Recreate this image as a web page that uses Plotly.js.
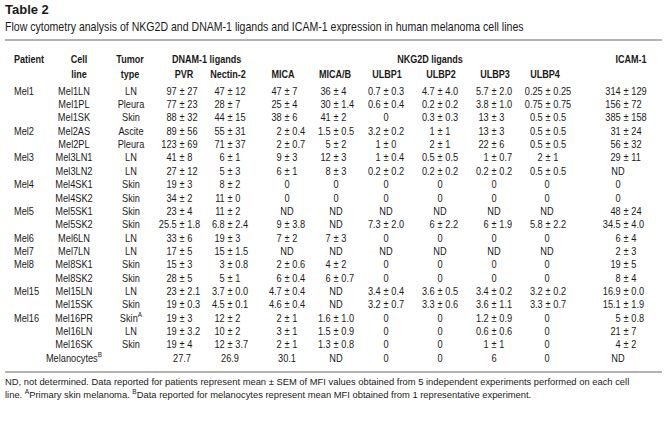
<!DOCTYPE html>
<html><head><meta charset="utf-8">
<script src="https://cdn.plot.ly/plotly-3.0.1.min.js"></script>
<style>html,body{margin:0;padding:0;background:#fff}#c{width:667px;height:439px}</style>
</head><body><div id="c"></div>
<script>
const patients = ['Mel1','','','Mel2','','Mel3','','Mel4','','Mel5','','Mel6','Mel7','Mel8','','Mel15','','Mel16','','',''];
const cellLines = ['Mel1LN','Mel1PL','Mel1SK','Mel2AS','Mel2PL','Mel3LN1','Mel3LN2','Mel4SK1','Mel4SK2','Mel5SK1','Mel5SK2','Mel6LN','Mel7LN','Mel8SK1','Mel8SK2','Mel15LN','Mel15SK','Mel16PR','Mel16LN','Mel16SK','Melanocytes<sup>B</sup>'];
const tumorTypes = ['LN','Pleura','Skin','Ascite','Pleura','LN','LN','Skin','Skin','Skin','Skin','LN','LN','Skin','Skin','LN','Skin','Skin<sup>A</sup>','LN','Skin',''];
const pvr = ['97 ± 27','77 ± 23','88 ± 32','89 ± 56','123 ± 69','41 ± 8','27 ± 12','19 ± 3','34 ± 2','23 ± 4','25.5 ± 1.8','33 ± 6','17 ± 5','15 ± 3','28 ± 5','23 ± 2.1','19 ± 0.3','19 ± 3','19 ± 3.2','19 ± 4','27.7'];
const nectin2 = ['47 ± 12','28 ± 7','44 ± 15','55 ± 31','71 ± 37','6 ± 1','5 ± 3','8 ± 2','11 ± 0','11 ± 2','6.8 ± 2.4','19 ± 3','15 ± 1.5','3 ± 0.8','5 ± 1','3.7 ± 0.0','4.5 ± 0.1','12 ± 2','10 ± 2','12 ± 3.7','26.9'];
const mica = ['47 ± 7','25 ± 4','38 ± 6','2 ± 0.4','2 ± 0.7','9 ± 3','6 ± 1','0','0','ND','9 ± 3.8','7 ± 2','ND','2 ± 0.6','6 ± 0.4','4.7 ± 0.4','4.6 ± 0.4','2 ± 1','3 ± 1','2 ± 1','30.1'];
const micab = ['36 ± 4','30 ± 1.4','41 ± 2','1.5 ± 0.5','5 ± 2','12 ± 3','8 ± 3','0','0','ND','ND','7 ± 3','ND','4 ± 2','6 ± 0.7','ND','ND','1.6 ± 1.0','1.5 ± 0.9','1.3 ± 0.8','ND'];
const ulbp1 = ['0.7 ± 0.3','0.6 ± 0.4','0','3.2 ± 0.2','1 ± 0','1 ± 0.4','0.2 ± 0.2','0','0','ND','7.3 ± 2.0','0','ND','0','0','3.4 ± 0.4','3.2 ± 0.7','0','0','0','0'];
const ulbp2 = ['4.7 ± 4.0','0.2 ± 0.2','0.3 ± 0.3','1 ± 1','2 ± 1','0.5 ± 0.5','0.2 ± 0.2','0','0','ND','6 ± 2.2','0','ND','0','0','3.6 ± 0.5','3.3 ± 0.6','0','0','0','0'];
const ulbp3 = ['5.7 ± 2.0','3.8 ± 1.0','13 ± 3','13 ± 3','22 ± 6','1 ± 0.7','0.2 ± 0.2','0','0','ND','6 ± 1.9','0','ND','0','0','3.4 ± 0.2','3.6 ± 1.1','1.2 ± 0.9','0.6 ± 0.6','1 ± 1','6'];
const ulbp4 = ['0.25 ± 0.25','0.75 ± 0.75','0.5 ± 0.5','0.5 ± 0.5','0.5 ± 0.5','2 ± 1','0.5 ± 0.5','0','0','ND','5.8 ± 2.2','0','ND','0','0','3.2 ± 0.2','3.3 ± 0.7','0','0','0','0'];
const icam1 = ['314 ± 129','156 ± 72','385 ± 158','31 ± 24','56 ± 32','29 ± 11','ND','0','0','48 ± 24','34.5 ± 4.0','6 ± 4','2 ± 3','19 ± 5','8 ± 4','16.9 ± 0.0','15.1 ± 1.9','5 ± 0.8','21 ± 7','4 ± 2','ND'];

const groupHeaders = ['Patient','Cell','Tumor','DNAM-1 ligands','NKG2D ligands','ICAM-1'];
const colHeaders = ['line','type','PVR','Nectin-2','MICA','MICA/B','ULBP1','ULBP2','ULBP3','ULBP4'];
const tableTitle = 'Table 2';
const subtitle = 'Flow cytometry analysis of NKG2D and DNAM-1 ligands and ICAM-1 expression in human melanoma cell lines';
const footnotes = ['ND, not determined. Data reported for patients represent mean ± SEM of MFI values obtained from 5 independent experiments performed on each cell',
  'line. <sup>A</sup>Primary skin melanoma. <sup>B</sup>Data reported for melanocytes represent mean MFI obtained from 1 representative experiment.'];

// ---- layout constants (pixel-space axes) ----
const FONT = '"Liberation Sans", Arial, sans-serif';
const INK = '#1a1a1a';
const FS = 11, SX = 0.84, HFS = 11.3, HSX = 0.8;
const Y0 = 92, DY = 13.35;
const rows = cellLines.map((_, i) => Y0 + i * DY);

const traces = [];
const scales = [];
function T(xs, ys, texts, pos, size, sx, bold) {
  const X = [], Y = [], S = [], P = [], Z = [], K = [];
  texts.forEach((t, i) => {
    if (t !== '') {
      X.push(xs[i]); Y.push(ys[i]); S.push(bold ? '<b>' + t + '</b>' : t);
      P.push(Array.isArray(pos) ? pos[i] : pos);
      Z.push(Array.isArray(size) ? size[i] : size);
      K.push(Array.isArray(sx) ? sx[i] : sx);
    }
  });
  traces.push({type: 'scatter', mode: 'text', x: X, y: Y, text: S, textposition: P,
    cliponaxis: false, textfont: {family: FONT, size: Z, color: INK},
    hoverinfo: 'skip', showlegend: false});
  scales.push(K);
}
const same = (arr, v) => arr.map(() => v);

// title block
T([5], [11], [tableTitle], 'middle right', 13, 1, true);
T([5, 5, 5], [28, 383, 396], [subtitle].concat(footnotes), 'middle right', [12, 9.4, 9.4], [0.88, 1, 1], false);

// headers
const ghX = [14, 79, 130, 172, 430, 631];
const ghPos = ['middle right', 'middle center', 'middle center', 'middle right', 'middle center', 'middle center'];
T(ghX, same(ghX, 60), groupHeaders, ghPos, HFS, HSX, true);
const chX = [79, 130, 184, 228, 283, 335, 387, 441, 495, 545];
T(chX, same(chX, 75), colHeaders, 'middle center', HFS, HSX, true);

// text columns
T(same(rows, 14), rows, patients, 'middle right', FS, SX, false);
T(same(rows, 74), rows, cellLines, 'middle center', FS, SX, false);
T(same(rows, 131), rows, tumorTypes, 'middle center', FS, SX, false);

// numeric columns aligned on the ± sign
const numCols = [pvr, nectin2, mica, micab, ulbp1, ulbp2, ulbp3, ulbp4, icam1];
const pmX = [182, 230, 287, 336, 386, 440, 494, 548, 626];
const singleX = [182, 230, 287, 336, 386, 440, 494, 547, 618];
const gap = (0.278 + 0.292) * FS * SX;
const L = {x: [], y: [], t: []}, P = {x: [], y: [], t: []}, R = {x: [], y: [], t: []}, S1 = {x: [], y: [], t: []};
numCols.forEach((col, c) => col.forEach((v, r) => {
  if (v.indexOf('±') >= 0) {
    const parts = v.split('±').map(s => s.trim());
    L.x.push(pmX[c] - gap); L.y.push(rows[r]); L.t.push(parts[0]);
    P.x.push(pmX[c]); P.y.push(rows[r]); P.t.push('±');
    R.x.push(pmX[c] + gap); R.y.push(rows[r]); R.t.push(parts[1]);
  } else {
    S1.x.push(singleX[c]); S1.y.push(rows[r]); S1.t.push(v);
  }
}));
T(L.x, L.y, L.t, 'middle left', FS, SX, false);
T(P.x, P.y, P.t, 'middle center', FS, SX, false);
T(R.x, R.y, R.t, 'middle right', FS, SX, false);
T(S1.x, S1.y, S1.t, 'middle center', FS, SX, false);

const shapes = [
  {type: 'line', xref: 'x', yref: 'y', x0: 5, x1: 662, y0: 40, y1: 40, line: {color: '#9a9a9a', width: 1.5}},
  {type: 'line', xref: 'x', yref: 'y', x0: 5, x1: 662, y0: 372, y1: 372, line: {color: '#9a9a9a', width: 1.5}}
];

Plotly.newPlot('c', traces, {
  width: 667, height: 439,
  margin: {l: 0, r: 0, t: 0, b: 0},
  paper_bgcolor: '#fff', plot_bgcolor: '#fff',
  xaxis: {range: [0, 667], visible: false, fixedrange: true},
  yaxis: {range: [439, 0], visible: false, fixedrange: true},
  shapes: shapes
}, {staticPlot: true}).then(gd => {
  // condense glyphs horizontally about each text's anchor (reference uses a condensed face)
  const tr = gd.querySelectorAll('.scatterlayer .trace');
  tr.forEach((g, i) => {
    const ks = scales[i] || [];
    g.querySelectorAll('.textpoint').forEach((pt, j) => {
      const s = ks[j];
      if (!s || s === 1) return;
      const t = pt.querySelector('text');
      if (!t) return;
      const x = parseFloat(t.getAttribute('x')) || 0;
      t.setAttribute('transform', 'translate(' + x + ',0) scale(' + s + ',1) translate(' + (-x) + ',0)');
    });
  });
});
</script></body></html>
